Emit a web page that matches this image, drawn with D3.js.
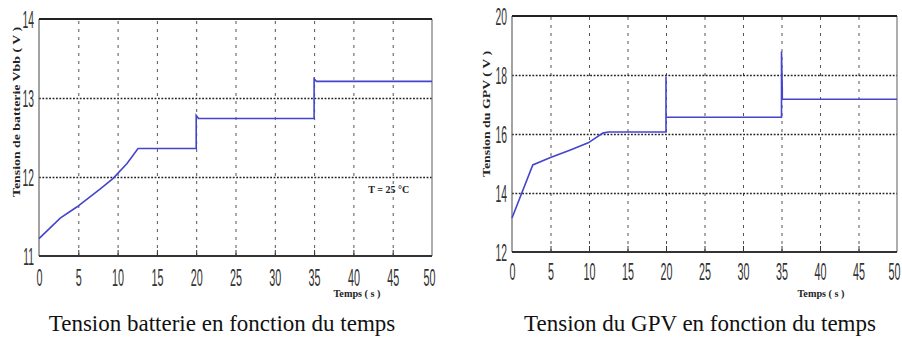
<!DOCTYPE html>
<html>
<head>
<meta charset="utf-8">
<script src="https://cdn.jsdelivr.net/npm/d3@7"></script>
<style>
  body { margin: 0; background: #fff; }
  svg { display: block; }
  .tick-lbl { font-family: "Liberation Sans", Arial, sans-serif; fill: #333; }
  .axis-title { font-family: "Liberation Serif", "Times New Roman", serif; font-weight: bold; fill: #222; }
  .caption { font-family: "Liberation Serif", "Times New Roman", serif; fill: #111; }
</style>
</head>
<body>
<div id="container"></div>
<script>
// --- data ---
const xTicks = [0, 5, 10, 15, 20, 25, 30, 35, 40, 45, 50];
const xGrid = [5, 10, 15, 20, 25, 30, 35, 40, 45];

// battery voltage
const batTicks = [11, 12, 13, 14];
const batGrid = [12, 13];
const batTime = [0, 2.7, 4.8, 7.8, 9.4, 11.2, 12.6, 20, 20, 20.3, 35, 35, 35.3, 50];
const batVolt = [11.22, 11.48, 11.62, 11.85, 11.98, 12.17, 12.36, 12.36, 12.78, 12.74, 12.74, 13.24, 13.21, 13.21];

// PV generator voltage
const gpvTicks = [12, 14, 16, 18, 20];
const gpvGrid = [14, 16, 18];
const gpvTime = [0, 2.7, 5, 7.5, 9.9, 11.8, 12.5, 20, 20, 20, 35, 35, 35.1, 35.1, 50];
const gpvVolt = [13.15, 14.95, 15.2, 15.45, 15.7, 16.03, 16.07, 16.07, 17.95, 16.57, 16.57, 18.8, 17.5, 17.18, 17.18];

const width = 902;
const height = 345;

const svg = d3.select("#container")
    .append("svg")
    .attr("width", width)
    .attr("height", height);

const lineColor = "#4444cc";
const sx = 0.45; // narrow tick font

function drawPanel(cfg) {
    const x = d3.scaleLinear().domain([0, 50]).range([cfg.left, cfg.right]);
    const y = d3.scaleLinear().domain(cfg.yDomain).range([cfg.bottom, cfg.top]);
    const g = svg.append("g");

    // vertical dashed grid
    g.append("g")
        .attr("transform", `translate(0,${cfg.bottom})`)
        .call(d3.axisBottom(x).tickValues(xGrid).tickSize(-(cfg.bottom - cfg.top)).tickFormat(""))
        .call(s => s.select(".domain").remove())
        .selectAll("line")
        .attr("stroke", "#555")
        .attr("stroke-dasharray", "3,5");

    // horizontal dotted grid
    g.append("g")
        .attr("transform", `translate(${cfg.left},0)`)
        .call(d3.axisLeft(y).tickValues(cfg.yGrid).tickSize(-(cfg.right - cfg.left)).tickFormat(""))
        .call(s => s.select(".domain").remove())
        .selectAll("line")
        .attr("stroke", "#222")
        .attr("stroke-width", 1.6)
        .attr("stroke-dasharray", "1.8,1.6");

    // small inner ticks at bottom
    g.append("g")
        .attr("transform", `translate(0,${cfg.bottom})`)
        .call(d3.axisBottom(x).tickValues(xGrid).tickSize(-6).tickFormat(""))
        .call(s => s.select(".domain").remove())
        .selectAll("line").attr("stroke", "#333");

    // frame
    g.append("line").attr("x1", cfg.left).attr("x2", cfg.left).attr("y1", cfg.top).attr("y2", cfg.bottom)
        .attr("stroke", "#666").attr("stroke-width", 1.2);
    g.append("line").attr("x1", cfg.right).attr("x2", cfg.right).attr("y1", cfg.top).attr("y2", cfg.bottom)
        .attr("stroke", "#777").attr("stroke-width", 1.2);
    g.append("line").attr("x1", cfg.left).attr("x2", cfg.right).attr("y1", cfg.top).attr("y2", cfg.top)
        .attr("stroke", "#222").attr("stroke-width", 2);
    g.append("line").attr("x1", cfg.left).attr("x2", cfg.right).attr("y1", cfg.bottom).attr("y2", cfg.bottom)
        .attr("stroke", "#333").attr("stroke-width", 2);

    // x tick labels
    g.append("g")
        .attr("transform", `translate(0,${cfg.bottom})`)
        .call(d3.axisBottom(x).tickValues(xTicks).tickSize(0).tickFormat(d3.format("d")))
        .call(s => s.select(".domain").remove())
        .selectAll("text")
        .attr("class", "tick-lbl")
        .attr("font-size", 24)
        .attr("x", d => (d === 50 ? -3 : 0) / sx)
        .attr("y", cfg.xLabelOffset)
        .attr("dy", 0)
        .attr("transform", `scale(${sx},1)`);

    // y tick labels
    g.append("g")
        .attr("transform", `translate(${cfg.left},0)`)
        .call(d3.axisLeft(y).tickValues(cfg.yTicks).tickSize(0).tickFormat(d3.format("d")))
        .call(s => s.select(".domain").remove())
        .selectAll("text")
        .attr("class", "tick-lbl")
        .attr("font-size", 23)
        .attr("x", -5 / sx)
        .attr("dy", "0.36em")
        .attr("transform", `scale(${sx},1)`);

    // data line
    const pts = cfg.time.map((t, i) => [t, cfg.volt[i]]);
    g.append("path")
        .datum(pts)
        .attr("fill", "none")
        .attr("stroke", lineColor)
        .attr("stroke-width", 1.6)
        .attr("d", d3.line().x(d => x(d[0])).y(d => y(d[1])));

    // y axis title
    g.append("text")
        .attr("class", "axis-title")
        .attr("transform", `translate(${cfg.yTitleX},${cfg.yTitleY}) rotate(-90)`)
        .attr("text-anchor", "middle")
        .attr("font-size", 10)
        .attr("textLength", cfg.yTitleLen)
        .attr("lengthAdjust", "spacingAndGlyphs")
        .text(cfg.yTitle);

    // x axis title
    g.append("text")
        .attr("class", "axis-title")
        .attr("x", cfg.xTitleX)
        .attr("y", 297)
        .attr("text-anchor", "middle")
        .attr("font-size", 10)
        .attr("textLength", 47)
        .attr("lengthAdjust", "spacingAndGlyphs")
        .text("Temps ( s )");

    // caption
    g.append("text")
        .attr("class", "caption")
        .attr("x", cfg.captionX)
        .attr("y", 331)
        .attr("text-anchor", "middle")
        .attr("font-size", 23)
        .text(cfg.caption);

    return { x, y, g };
}

const left = drawPanel({
    left: 39, right: 432, top: 19, bottom: 256,
    yDomain: [11, 14], yTicks: batTicks, yGrid: batGrid,
    time: batTime, volt: batVolt, xLabelOffset: 30,
    yTitle: "Tension de batterie Vbb ( V )", yTitleX: 20, yTitleY: 112, yTitleLen: 170,
    xTitleX: 357, caption: "Tension batterie en fonction du temps", captionX: 222
});

drawPanel({
    left: 512, right: 897, top: 16, bottom: 252,
    yDomain: [12, 20], yTicks: gpvTicks, yGrid: gpvGrid,
    time: gpvTime, volt: gpvVolt, xLabelOffset: 28,
    yTitle: "Tension du GPV ( V )", yTitleX: 490, yTitleY: 114, yTitleLen: 126,
    xTitleX: 821, caption: "Tension du GPV en fonction du temps", captionX: 700
});

// temperature annotation
left.g.append("text")
    .attr("class", "axis-title")
    .attr("x", left.x(44.5))
    .attr("y", left.y(11.8))
    .attr("text-anchor", "middle")
    .attr("font-size", 10)
    .attr("font-weight", "normal")
    .text("T = 25 °C");
</script>
</body>
</html>
